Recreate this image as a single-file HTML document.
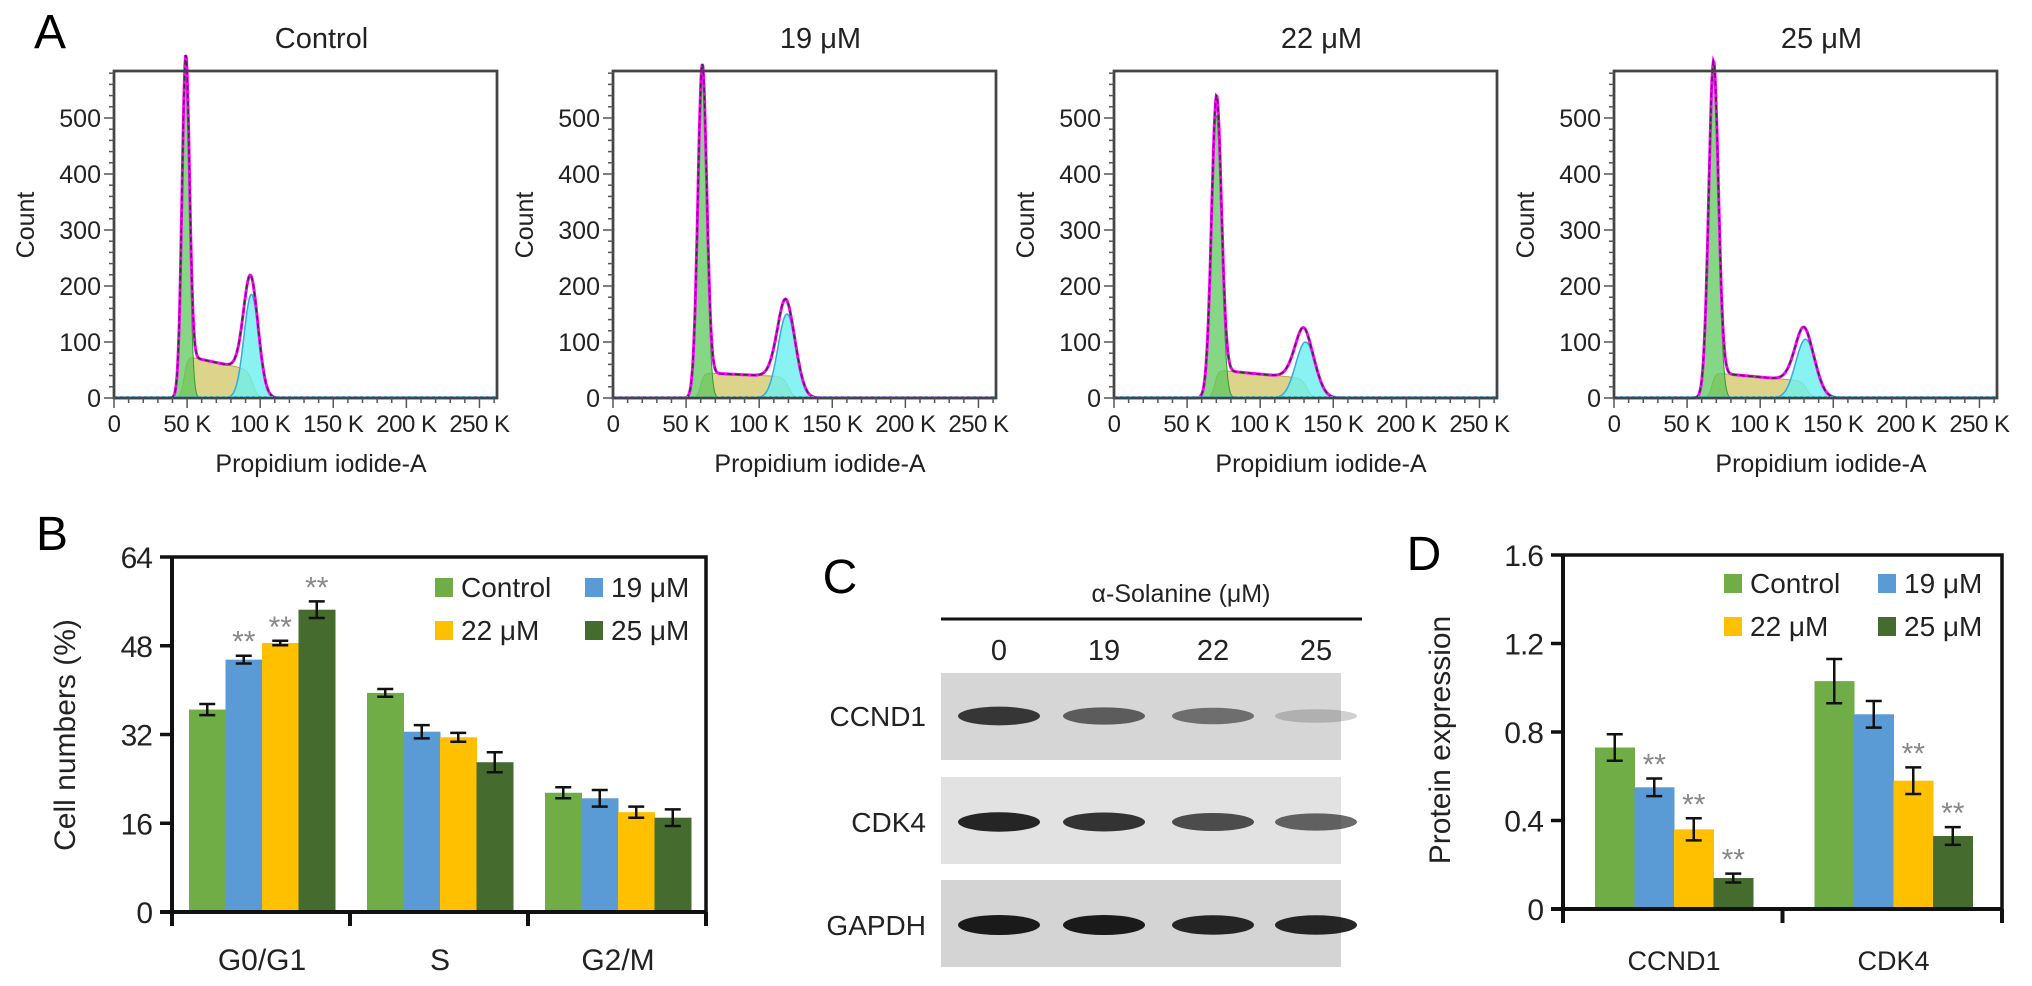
<!DOCTYPE html>
<html><head><meta charset="utf-8">
<style>
html,body{margin:0;padding:0;background:#fff;}
svg{display:block;font-family:"Liberation Sans",sans-serif;}
</style></head>
<body>
<svg id="fig" width="2032" height="986" viewBox="0 0 2032 986" xmlns="http://www.w3.org/2000/svg">
<g id="pa"></g>
<g id="pb"></g>
<g id="pc"></g>
<g id="pd"></g>
</svg>
<script>
// ---------- Panel A data ----------
const histTitles = ["Control", "19 \u03BCM", "22 \u03BCM", "25 \u03BCM"];
const g1Pos = [49, 61, 70, 68];
const g1Height = [560, 565, 505, 570];
const g2Pos = [94, 119, 131, 131];
const g2Height = [185, 150, 100, 105];
const sStart = [75, 45, 50, 45];
const sEnd = [50, 38, 35, 30];
const xTickLabels = ["0", "50 K", "100 K", "150 K", "200 K", "250 K"];
const yTickLabelsA = ["0", "100", "200", "300", "400", "500"];
// ---------- Panel B data ----------
const phaseCats = ["G0/G1", "S", "G2/M"];
const bControl = [36.5, 39.5, 21.5];
const b19 = [45.5, 32.5, 20.5];
const b22 = [48.5, 31.5, 18];
const b25 = [54.5, 27, 17];
const bErrControl = [1, 0.7, 1];
const bErr19 = [0.7, 1.2, 1.5];
const bErr22 = [0.4, 0.8, 1];
const bErr25 = [1.5, 1.8, 1.5];
const bSig = [[false, true, true, true], [false, false, false, false], [false, false, false, false]];
const bTicks = [0, 16, 32, 48, 64];
// ---------- Panel D data ----------
const proteinCats = ["CCND1", "CDK4"];
const dControl = [0.73, 1.03];
const d19 = [0.55, 0.88];
const d22 = [0.36, 0.58];
const d25 = [0.14, 0.33];
const dErrControl = [0.06, 0.1];
const dErr19 = [0.04, 0.06];
const dErr22 = [0.05, 0.06];
const dErr25 = [0.02, 0.04];
const dSig = [[false, true, true, true], [false, false, true, true]];
const dTicks = [0, 0.4, 0.8, 1.2, 1.6];
const seriesNames = ["Control", "19 \u03BCM", "22 \u03BCM", "25 \u03BCM"];
const seriesColors = ["#70ad47", "#5b9bd5", "#ffc000", "#466b2f"];
// ---------- Panel C data ----------
const laneLabels = ["0", "19", "22", "25"];
const blotRows = ["CCND1", "CDK4", "GAPDH"];
const bandIntensity = [[0.85, 0.65, 0.55, 0.2], [0.95, 0.88, 0.75, 0.65], [1, 1, 0.95, 0.95]];

const NS = "http://www.w3.org/2000/svg";
function mk(parent, tag, attrs, text) {
  const e = document.createElementNS(NS, tag);
  for (const k in attrs) e.setAttribute(k, attrs[k]);
  if (text !== undefined) e.textContent = text;
  parent.appendChild(e);
  return e;
}

// ================= Panel A =================
const pa = document.getElementById('pa');
let t = mk(pa, 'text', {x: 50, y: 48, 'font-size': 48, 'text-anchor': 'middle'}, 'A');


const boxLefts = [114, 613, 1114, 1614];
const boxW = 383, boxTop = 71, boxBot = 398, perHundred = 56;
function gauss(x, m, s) { return Math.exp(-0.5 * ((x - m) / s) * ((x - m) / s)); }
function sig(x) { return 1 / (1 + Math.exp(-x)); }
for (let p = 0; p < 4; p++) {
  const L = boxLefts[p];
  const g = mk(pa, 'g', {});
  
  
  const X = v => L + v / 262 * boxW;
  const Y = c => boxBot - c / 100 * perHundred;
  t = mk(g, 'text', {x: L + boxW / 2 + 16, y: 48, 'font-size': 29, 'text-anchor': 'middle', fill: '#222'}, histTitles[p]);
  
  
  mk(g, 'rect', {x: L, y: boxTop, width: boxW, height: boxBot - boxTop, fill: '#fff', stroke: '#444', 'stroke-width': 2.5});
  // components
  const s1 = g1Pos[p] * 0.04 + 0.6, s2 = g2Pos[p] * 0.045 + 0.8;
  let ptsG1 = [], ptsS = [], ptsG2 = [], ptsT = [];
  for (let v = 0; v <= 262; v += 0.5) {
    const a = g1Height[p] * gauss(v, g1Pos[p], s1);
    const c = g2Height[p] * gauss(v, g2Pos[p], s2);
    const frac = (v - g1Pos[p]) / (g2Pos[p] - g1Pos[p]);
    const lvl = sStart[p] + (sEnd[p] - sStart[p]) * Math.min(1, Math.max(0, frac));
    const b = lvl * sig((v - g1Pos[p] + 1) / 1.2) * sig((g2Pos[p] - v + 1) / 1.8);
    ptsG1.push([X(v), Y(a)]); ptsS.push([X(v), Y(b)]); ptsG2.push([X(v), Y(c)]); ptsT.push([X(v), Y(a + b + c)]);
  }
  const area = pts => 'M' + X(0) + ',' + boxBot + ' ' + pts.map(q => 'L' + q[0].toFixed(1) + ',' + q[1].toFixed(1)).join(' ') + ' L' + X(262) + ',' + boxBot + 'Z';
  const line = pts => pts.map((q, i) => (i ? 'L' : 'M') + q[0].toFixed(1) + ',' + q[1].toFixed(1)).join(' ');
  let e = mk(g, 'path', {d: area(ptsS), fill: '#d8cf7e', 'fill-opacity': 0.9, stroke: '#b8a24a', 'stroke-width': 1});
   
  e = mk(g, 'path', {d: area(ptsG2), fill: '#6cf0f0', 'fill-opacity': 0.8, stroke: '#3aa8d8', 'stroke-width': 1.5});
   
  e = mk(g, 'path', {d: area(ptsG1), fill: '#5cc85c', 'fill-opacity': 0.75, stroke: '#2f9a2f', 'stroke-width': 1});
   
  e = mk(g, 'path', {d: line(ptsT), fill: 'none', stroke: '#ff00ff', 'stroke-width': 3});
   
  e = mk(g, 'path', {d: line(ptsT), fill: 'none', stroke: '#333', 'stroke-width': 1.5, 'stroke-dasharray': '5,3'});
   
  mk(g, 'line', {x1: L, y1: boxBot - 1, x2: L + boxW, y2: boxBot - 1, stroke: '#3cc8e0', 'stroke-width': 2, 'stroke-dasharray': '3,3'});
  mk(g, 'rect', {x: L, y: boxTop, width: boxW, height: boxBot - boxTop, fill: 'none', stroke: '#444', 'stroke-width': 2.5});
  // y ticks
  for (let c = 0; c <= 580; c += 20) {
    const major = c % 100 === 0;
    mk(g, 'line', {x1: L - (major ? 10 : 5), y1: Y(c), x2: L, y2: Y(c), stroke: '#555', 'stroke-width': 1.5});
  }
  yTickLabelsA.forEach((lab, i) => {
    const tt = mk(g, 'text', {x: L - 13, y: Y(i * 100) + 9, 'font-size': 25, 'text-anchor': 'end', fill: '#222'}, lab);
    
    
  });
  // x ticks
  for (let v = 0; v <= 262; v += 10) {
    const major = v % 50 === 0;
    mk(g, 'line', {x1: X(v), y1: boxBot, x2: X(v), y2: boxBot + (major ? 10 : 5), stroke: '#555', 'stroke-width': 1.5});
  }
  xTickLabels.forEach((lab, i) => {
    const tt = mk(g, 'text', {x: X(i * 50), y: 432, 'font-size': 24, 'text-anchor': 'middle', fill: '#222', 'letter-spacing': -0.5}, lab);
    
    
  });
  t = mk(g, 'text', {x: L + 207, y: 472, 'font-size': 25, 'text-anchor': 'middle', fill: '#222'}, 'Propidium iodide-A');
  
  
  t = mk(g, 'text', {x: 0, y: 0, 'font-size': 25, 'text-anchor': 'middle', fill: '#222', transform: 'translate(' + (L - 80) + ',' + 225 + ') rotate(-90)'}, 'Count');
  
  
}

// ================= Bar chart helper =================
function barChart(parent, o) {
  const Y = v => o.y0 - v / o.vmax * (o.y0 - o.yTop);
  const period = (o.xR - o.x0) / o.cats.length;
  const series = [o.s0, o.s1, o.s2, o.s3];
  const errs = [o.e0, o.e1, o.e2, o.e3];
  for (let c = 0; c < o.cats.length; c++) {
    for (let s = 0; s < 4; s++) {
      const x = o.x0 + c * period + o.pad + s * o.bw;
      const v = series[s][c];
      const r = mk(parent, 'rect', {x: x, y: Y(v), width: o.bw + 0.5, height: o.y0 - Y(v), fill: seriesColors[s]});
      
      
      const cx = x + o.bw / 2, eh = errs[s][c];
      const top = Y(v + eh), bot = Y(v - eh);
      const eb = mk(parent, 'path', {d: 'M' + cx + ',' + top + 'V' + bot + 'M' + (cx - 8) + ',' + top + 'H' + (cx + 8) + 'M' + (cx - 8) + ',' + bot + 'H' + (cx + 8), stroke: '#111', 'stroke-width': 2.5, fill: 'none'});
      
      
      if (o.sig[c][s]) {
        const st = mk(parent, 'text', {x: cx, y: top - 4, 'font-size': 30, 'text-anchor': 'middle', fill: '#888'}, '**');
        
        
      }
    }
    const cl = mk(parent, 'text', {x: o.x0 + c * period + o.pad + 2 * o.bw, y: o.catY, 'font-size': o.catSize, 'text-anchor': 'middle', fill: '#222'}, o.cats[c]);
    
    
  }
  // frame
  mk(parent, 'path', {d: 'M' + o.x0 + ',' + o.yTop + 'H' + o.xR + 'V' + o.y0, fill: 'none', stroke: '#111', 'stroke-width': 3.5});
  mk(parent, 'line', {x1: o.x0, y1: o.yTop, x2: o.x0, y2: o.y0 + 14, stroke: '#111', 'stroke-width': 4});
  mk(parent, 'line', {x1: o.x0 - 12, y1: o.y0, x2: o.xR, y2: o.y0, stroke: '#111', 'stroke-width': 4});
  for (let c = 0; c <= o.cats.length; c++) {
    mk(parent, 'line', {x1: o.x0 + c * period, y1: o.y0, x2: o.x0 + c * period, y2: o.y0 + 14, stroke: '#111', 'stroke-width': 4});
  }
  o.ticks.forEach(v => {
    mk(parent, 'line', {x1: o.x0 - 12, y1: Y(v), x2: o.x0, y2: Y(v), stroke: '#111', 'stroke-width': 3.5});
    const tl = mk(parent, 'text', {x: o.x0 - 20, y: Y(v) + 11, 'font-size': 30, 'text-anchor': 'end', fill: '#222', 'letter-spacing': -1}, o.fmt(v));
    
    
  });
  const yl = mk(parent, 'text', {x: 0, y: 0, 'font-size': 30, 'text-anchor': 'middle', fill: '#222', transform: 'translate(' + o.ylabX + ',' + o.ylabY + ') rotate(-90)'}, o.ylab);
  
  
  // legend
  for (let s = 0; s < 4; s++) {
    const lx = o.legX + (s % 2) * o.legDx, ly = o.legY + Math.floor(s / 2) * 43;
    const lg = mk(parent, 'g', {});
    
    
    mk(lg, 'rect', {x: lx, y: ly, width: 18, height: 19, fill: seriesColors[s]});
    mk(lg, 'text', {x: lx + 26, y: ly + 19, 'font-size': 28, fill: '#222'}, seriesNames[s]);
  }
}

// ================= Panel B =================
const pb = document.getElementById('pb');
t = mk(pb, 'text', {x: 52, y: 550, 'font-size': 48, 'text-anchor': 'middle'}, 'B');


barChart(pb, {x0: 172, xR: 706, y0: 912, yTop: 557, vmax: 64, cats: phaseCats,
  s0: bControl, s1: b19, s2: b22, s3: b25, e0: bErrControl, e1: bErr19, e2: bErr22, e3: bErr25,
  sig: bSig, ticks: bTicks, fmt: v => String(v), pad: 17, bw: 36.5, catY: 970, catSize: 30,
  ylab: 'Cell numbers (%)', ylabX: 75, ylabY: 735, legX: 435, legY: 578, legDx: 150});

// ================= Panel C =================
const pc = document.getElementById('pc');
t = mk(pc, 'text', {x: 840, y: 593, 'font-size': 48, 'text-anchor': 'middle'}, 'C');


t = mk(pc, 'text', {x: 1181, y: 602, 'font-size': 25, 'text-anchor': 'middle', fill: '#222'}, '\u03B1-Solanine (\u03BCM)');


mk(pc, 'line', {x1: 941, y1: 619, x2: 1362, y2: 619, stroke: '#111', 'stroke-width': 3});
const laneX = [999, 1104, 1213, 1316];
laneLabels.forEach((l, i) => {
  const tl = mk(pc, 'text', {x: laneX[i], y: 660, 'font-size': 29, 'text-anchor': 'middle', fill: '#222'}, l);
  
  
});
const rowTop = [673, 777, 880], rowH = [87, 87, 87], rowBg = ['#d6d6d6', '#e2e2e2', '#d4d4d4'], rowBandY = [716, 822, 925];
blotRows.forEach((r, i) => {
  const rg = mk(pc, 'g', {});
  
  
  mk(rg, 'rect', {x: 941, y: rowTop[i], width: 400, height: rowH[i], fill: rowBg[i]});
  const tl = mk(rg, 'text', {x: 926, y: rowBandY[i] + 10, 'font-size': 28, 'text-anchor': 'end', fill: '#222'}, r);
  
  
  for (let l = 0; l < 4; l++) {
    const a = bandIntensity[i][l];
    const band = mk(rg, 'ellipse', {cx: laneX[l], cy: rowBandY[i], rx: 41, ry: 6 + 4 * a, fill: '#1a1a1a', 'fill-opacity': a});
    
    
  }
});

// ================= Panel D =================
const pd = document.getElementById('pd');
t = mk(pd, 'text', {x: 1424, y: 570, 'font-size': 48, 'text-anchor': 'middle'}, 'D');


barChart(pd, {x0: 1563, xR: 2002, y0: 909, yTop: 555, vmax: 1.6, cats: proteinCats,
  s0: dControl, s1: d19, s2: d22, s3: d25, e0: dErrControl, e1: dErr19, e2: dErr22, e3: dErr25,
  sig: dSig, ticks: dTicks, fmt: v => (v === 0 ? '0' : v.toFixed(1)), pad: 32, bw: 39.5, catY: 970, catSize: 27,
  ylab: 'Protein expression', ylabX: 1450, ylabY: 740, legX: 1724, legY: 574, legDx: 154});
</script>
</body></html>
